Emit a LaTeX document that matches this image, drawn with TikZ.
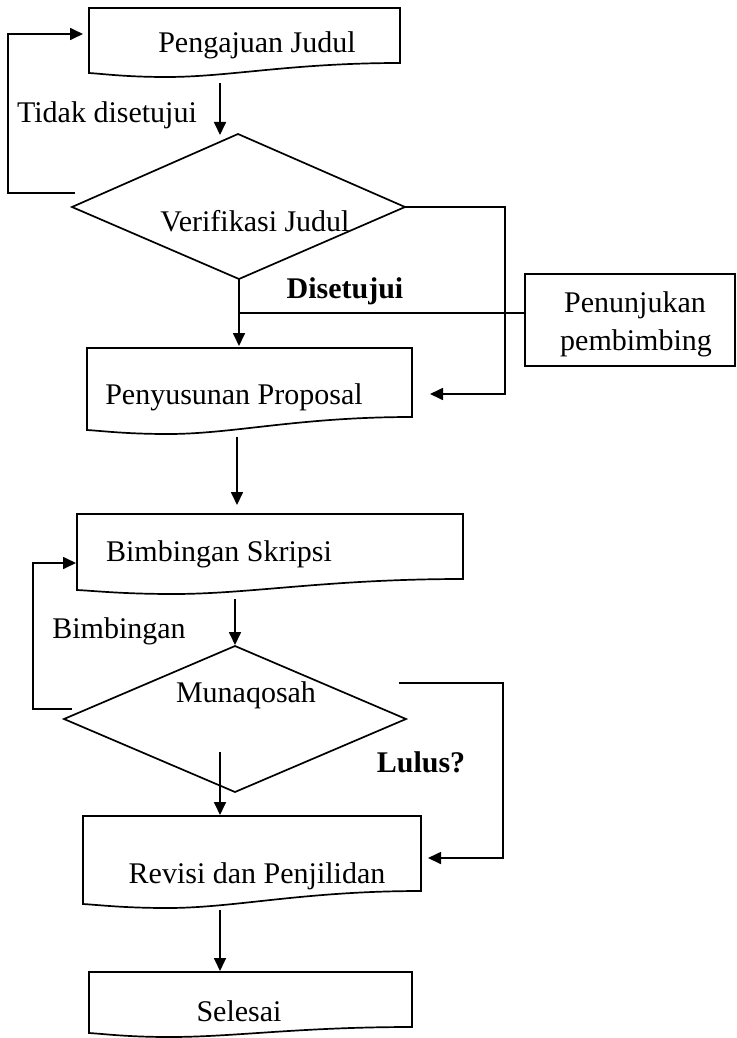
\documentclass[tikz,border=0pt]{standalone}
\usepackage{fontspec}
\setmainfont{Liberation Serif}
\usetikzlibrary{arrows.meta}
\newcommand{\docbox}[5]{% xL, xR, top, yLbottom, yRbottom
  \draw[shapeline] (#1,#3) -- (#2,#3) -- (#2,#5)
    .. controls ({#2-0.35*(#2-#1)},#5) and ({#1+0.45*(#2-#1)},{#4+4}) .. ({#1+0.25*(#2-#1)},{#4+4})
    .. controls ({#1+0.12*(#2-#1)},{#4+4}) and ({#1+0.05*(#2-#1)},{#4+1}) .. (#1,#4) -- cycle;}
\tikzset{
  shapeline/.style={line width=1.7pt, line join=miter},
  conn/.style={line width=1.7pt},
  arr/.style={conn, -{Triangle[length=13pt,width=12pt]}},
  lbl/.style={font=\fontsize{30}{34}\selectfont, anchor=base, inner sep=0pt},
  blbl/.style={lbl, font=\fontsize{30}{34}\selectfont\bfseries},
}
\begin{document}
\begin{tikzpicture}[x=1pt,y=-1pt]
\useasboundingbox (0,0) rectangle (736,1038);
% shapes
\docbox{89}{400}{8}{73}{63}
\draw[shapeline] (238,134) -- (405,207) -- (239,279) -- (72,207) -- cycle;
\docbox{87}{412}{348}{430}{417}
\draw[shapeline] (525,274) rectangle (735,366);
\docbox{77}{463}{514}{590}{579}
\draw[shapeline] (235,646) -- (406,719) -- (235,792) -- (64,719) -- cycle;
\docbox{83}{421}{816}{904}{891}
\docbox{89}{412}{972}{1033}{1027}
% texts
\node[lbl] (pj) at (257,53) {Pengajuan Judul};
\node[lbl] (td) at (107,123) {Tidak disetujui};
\node[lbl] (vj) at (255,231) {Verifikasi Judul};
\node[blbl] (ds) at (345,298) {Disetujui};
\node[lbl] (pb1) at (635,312) {Penunjukan};
\node[lbl] (pb2) at (636,350) {pembimbing};
\node[lbl] (pp) at (234,404) {Penyusunan Proposal};
\node[lbl] (bs) at (219,561) {Bimbingan Skripsi};
\node[lbl] (bb) at (119,638) {Bimbingan};
\node[lbl] (mq) at (246,702) {Munaqosah};
\node[blbl] (ll) at (421,772) {Lulus?};
\node[lbl] (rp) at (257,883) {Revisi dan Penjilidan};
\node[lbl] (sl) at (239,1021) {Selesai};
% coordinates
\coordinate (a1s) at (220,83);   \coordinate (a1e) at (220,135);
\coordinate (l1s) at (75,193);   \coordinate (l1c) at (8,34);   \coordinate (l1e) at (83,34);
\coordinate (r1s) at (403,207);  \coordinate (r1c) at (505,394); \coordinate (r1e) at (430,394);
\coordinate (d1s) at (239,279);  \coordinate (d1e) at (239,346);
\coordinate (hs) at (239,313);   \coordinate (he) at (525,313);
\coordinate (a2s) at (237,437);  \coordinate (a2e) at (237,505);
\coordinate (l2s) at (72,709);   \coordinate (l2c) at (33,563); \coordinate (l2e) at (76,563);
\coordinate (a3s) at (235,599);  \coordinate (a3e) at (235,645);
\coordinate (r2s) at (399,683);  \coordinate (r2c) at (503,858); \coordinate (r2e) at (428,858);
\coordinate (a4s) at (220,752);  \coordinate (a4e) at (220,815);
\coordinate (a5s) at (220,910);  \coordinate (a5e) at (220,971);
% connectors
\draw[arr] (a1s) -- (a1e);
\draw[arr] (l1s) -| (l1c) -- (l1e);
\draw[arr] (r1s) -| (r1c) -- (r1e);
\draw[arr] (d1s) -- (d1e);
\draw[conn] (hs) -- (he);
\draw[arr] (a2s) -- (a2e);
\draw[arr] (l2s) -| (l2c) -- (l2e);
\draw[arr] (a3s) -- (a3e);
\draw[arr] (r2s) -| (r2c) -- (r2e);
\draw[arr] (a4s) -- (a4e);
\draw[arr] (a5s) -- (a5e);
\end{tikzpicture}
\end{document}
